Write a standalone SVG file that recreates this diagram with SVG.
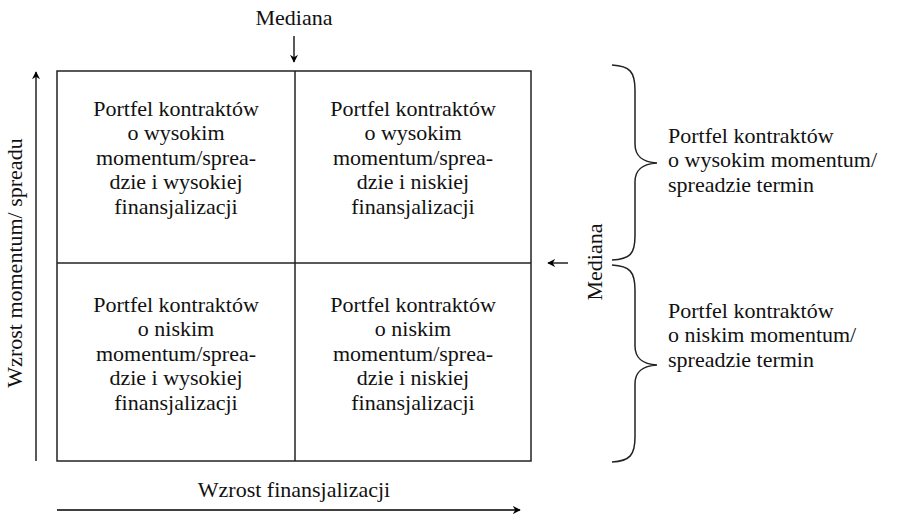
<svg xmlns="http://www.w3.org/2000/svg" width="908" height="518" viewBox="0 0 908 518">
<defs>
<marker id="ah" viewBox="0 0 10 10" refX="9" refY="5" markerWidth="8" markerHeight="8" orient="auto" markerUnits="userSpaceOnUse">
<path d="M0,0 L10,5 L0,10 L3,5 Z" fill="#000"/>
</marker>
<style>
text{font-family:"Liberation Serif","Times New Roman",serif;font-size:22px;fill:#111}
.c{text-anchor:middle}
.ln{stroke:#222;stroke-width:1.5;fill:none}
.ar{stroke:#000;stroke-width:1.3;fill:none}
</style>
</defs>
<rect width="908" height="518" fill="#fff"/>
<g id="grid">
<rect x="57" y="71" width="474" height="390" class="ln"/>
<line x1="295" y1="71" x2="295" y2="461" class="ln"/>
<line x1="57" y1="263" x2="531" y2="263" class="ln"/>
</g>
<g id="cell-tl">
<text class="c" x="176" y="116">Portfel kontraktów</text>
<text class="c" x="176" y="140">o wysokim</text>
<text class="c" x="176" y="165">momentum/sprea-</text>
<text class="c" x="176" y="189">dzie i wysokiej</text>
<text class="c" x="176" y="214">finansjalizacji</text>
</g>
<g id="cell-tr">
<text class="c" x="413" y="116">Portfel kontraktów</text>
<text class="c" x="413" y="140">o wysokim</text>
<text class="c" x="413" y="165">momentum/sprea-</text>
<text class="c" x="413" y="189">dzie i niskiej</text>
<text class="c" x="413" y="214">finansjalizacji</text>
</g>
<g id="cell-bl">
<text class="c" x="176" y="312">Portfel kontraktów</text>
<text class="c" x="176" y="336">o niskim</text>
<text class="c" x="176" y="361">momentum/sprea-</text>
<text class="c" x="176" y="385">dzie i wysokiej</text>
<text class="c" x="176" y="410">finansjalizacji</text>
</g>
<g id="cell-br">
<text class="c" x="413" y="312">Portfel kontraktów</text>
<text class="c" x="413" y="336">o niskim</text>
<text class="c" x="413" y="361">momentum/sprea-</text>
<text class="c" x="413" y="385">dzie i niskiej</text>
<text class="c" x="413" y="410">finansjalizacji</text>
</g>
<g id="label-top"><text class="c" x="294" y="25">Mediana</text></g>
<g id="label-left"><text class="c" transform="translate(22,263) rotate(-90)">Wzrost momentum/ spreadu</text></g>
<g id="label-bottom"><text class="c" x="294" y="497">Wzrost finansjalizacji</text></g>
<g id="label-right"><text class="c" transform="translate(602,262) rotate(-90)">Mediana</text></g>
<g id="brace-top">
<path class="ln" d="M612,65 C630,66 635,72 635,90 L635,144 C635,157 643,162 657,163 C643,164 635,169 635,182 L635,236 C635,254 630,259 612,260"/>
<text x="668" y="143">Portfel kontraktów</text>
<text x="668" y="167">o wysokim momentum/</text>
<text x="668" y="192">spreadzie termin</text>
</g>
<g id="brace-bottom">
<path class="ln" d="M612,265 C630,266 635,272 635,290 L635,346 C635,359 643,364 657,365 C643,366 635,371 635,384 L635,437 C635,455 630,461 612,462"/>
<text x="668" y="318">Portfel kontraktów</text>
<text x="668" y="342">o niskim momentum/</text>
<text x="668" y="367">spreadzie termin</text>
</g>
<g id="connectors">
<line class="ar" x1="294" y1="36" x2="294" y2="62" marker-end="url(#ah)"/>
<line class="ar" x1="36" y1="461" x2="36" y2="72" marker-end="url(#ah)"/>
<line class="ar" x1="57" y1="510" x2="520" y2="510" marker-end="url(#ah)"/>
<line class="ar" x1="568" y1="263" x2="548" y2="263" marker-end="url(#ah)"/>
</g>
</svg>
